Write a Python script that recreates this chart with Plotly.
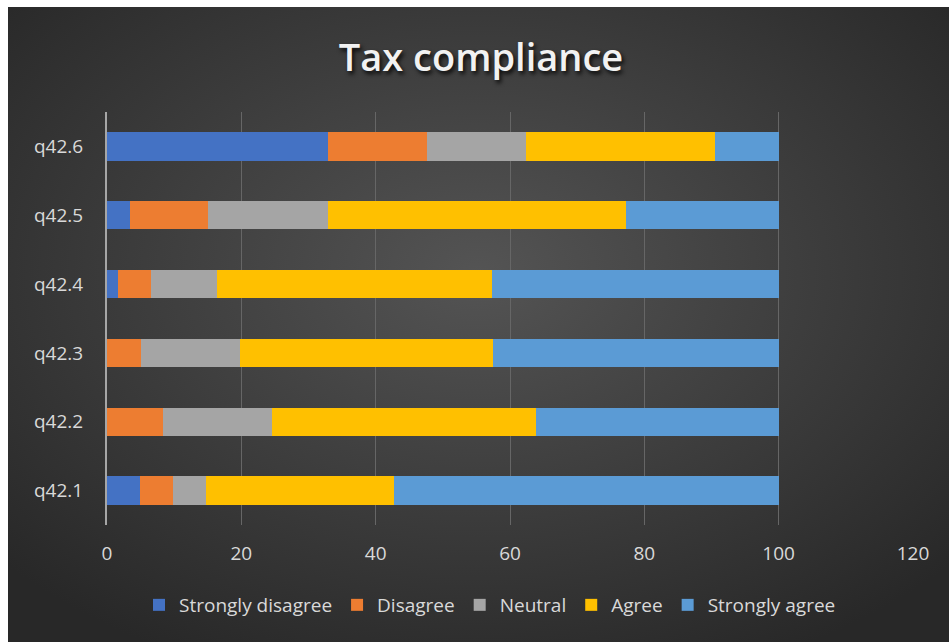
import base64
import plotly.graph_objects as go

categories = ["q42.1", "q42.2", "q42.3", "q42.4", "q42.5", "q42.6"]
series_names = ["Strongly disagree", "Disagree", "Neutral", "Agree", "Strongly agree"]
strongly_disagree = [4.9, 0.0, 0.0, 1.7, 3.4, 32.9]
disagree = [4.9, 8.3, 5.0, 4.9, 11.6, 14.7]
neutral = [4.9, 16.3, 14.8, 9.8, 17.9, 14.8]
agree = [28.1, 39.3, 37.7, 40.9, 44.3, 28.1]
strongly_agree = [57.2, 36.1, 42.5, 42.7, 22.8, 9.5]
x_ticks = [0, 20, 40, 60, 80, 100, 120]

series_values = [strongly_disagree, disagree, neutral, agree, strongly_agree]
colors = ["#4472C4", "#ED7D31", "#A5A5A5", "#FFC000", "#5B9BD5"]

W, H = 949, 642
L, R, T, B = 107, 36, 112, 117
pw, ph = W - L - R, H - T - B

fig = go.Figure()
for name, vals, col in zip(series_names, series_values, colors):
    fig.add_trace(go.Bar(
        y=categories, x=vals, name=name, orientation="h",
        marker=dict(color=col, line=dict(width=0)),
    ))

svg = (
    '<svg xmlns="http://www.w3.org/2000/svg" width="941" height="635" viewBox="0 0 941 635" '
    'preserveAspectRatio="none"><defs><radialGradient id="g" cx="50%" cy="42%" r="68%">'
    '<stop offset="0" stop-color="#545454"/><stop offset="1" stop-color="#282828"/>'
    '</radialGradient></defs><rect x="0" y="0" width="941" height="635" fill="url(#g)"/></svg>'
)
src = "data:image/svg+xml;base64," + base64.b64encode(svg.encode()).decode()

bg_left, bg_top = 8, 7
fig.add_layout_image(dict(
    source=src, xref="paper", yref="paper",
    x=(bg_left - L) / pw, y=(H - B - bg_top) / ph,
    sizex=(W - bg_left) / pw, sizey=(H - bg_top) / ph,
    xanchor="left", yanchor="top", sizing="stretch", layer="below",
))

tick_font = dict(family="Open Sans", size=19, color="#d9d9d9")
fig.update_layout(
    width=W, height=H,
    margin=dict(l=L, r=R, t=T, b=B),
    paper_bgcolor="white",
    plot_bgcolor="rgba(0,0,0,0)",
    barmode="stack",
    bargap=0.59,
    title=dict(
        text="Tax compliance", x=481 / W, xanchor="center", y=1 - 58 / H, yanchor="middle",
        font=dict(family="Open Sans", size=38, color="#f2f2f2", weight=600,
                  shadow="2px 3px 4px rgba(0,0,0,0.85)"),
    ),
    xaxis=dict(
        range=[0, 120], tickvals=x_ticks, showgrid=True, gridcolor="#666666", gridwidth=1,
        zeroline=False, showline=False, tickfont=tick_font, ticklabelstandoff=15,
        fixedrange=True,
    ),
    yaxis=dict(
        categoryorder="array", categoryarray=categories, showgrid=False,
        showline=True, linecolor="#a6a6a6", linewidth=2, tickfont=tick_font,
        ticklabelstandoff=18, fixedrange=True,
    ),
    legend=dict(
        orientation="h", xref="container", x=490 / W, xanchor="center",
        yref="container", y=1 - 605 / H, yanchor="middle",
        font=dict(family="Open Sans", size=19, color="#d9d9d9"),
        bgcolor="rgba(0,0,0,0)", traceorder="normal", itemwidth=30,
    ),
    showlegend=True,
)

fig.write_html("out.html")
